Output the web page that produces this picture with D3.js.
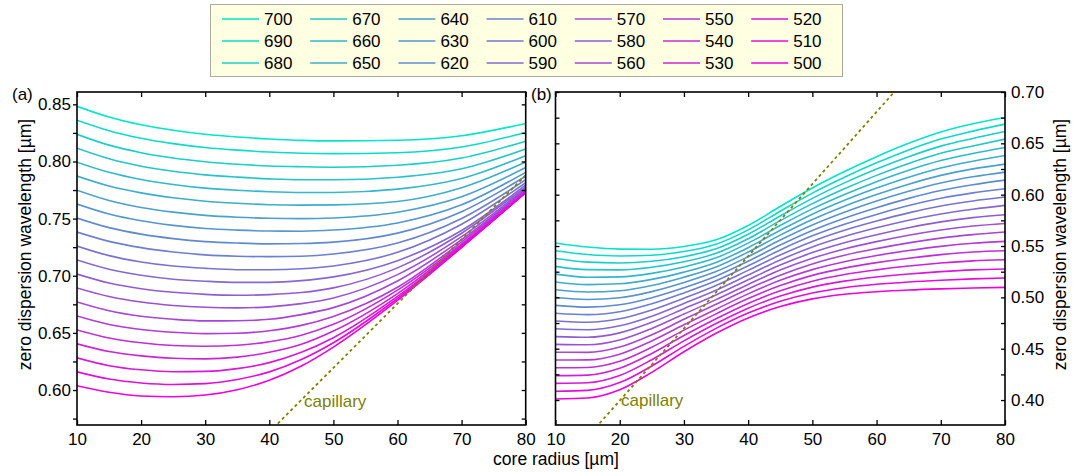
<!DOCTYPE html>
<html>
<head>
<meta charset="utf-8">
<script src="https://cdn.jsdelivr.net/npm/d3@7"></script>
<style>
  body { margin: 0; background: #fff; }
  text { font-family: "Liberation Sans", Arial, sans-serif; }
</style>
</head>
<body>
<script>
// wavelengths of the curves, nm
const wavelengths = [700, 690, 680, 670, 660, 650, 640, 630, 620, 610, 600,
                     590, 580, 570, 560, 550, 540, 530, 520, 510, 500];
// legend is filled column by column (570 / 580 appear swapped in the original)
const legendOrder = [700, 690, 680, 670, 660, 650, 640, 630, 620, 610, 600,
                     590, 570, 580, 560, 550, 540, 530, 520, 510, 500];

// panel (a): core radius grid and zero dispersion wavelength per curve
const radiiA = [10, 15, 20, 25, 30, 35, 40, 45, 50, 60, 70, 80];
const zdwA = [
  [0.8483, 0.8389, 0.8321, 0.8273, 0.8238, 0.8214, 0.8197, 0.8185, 0.8180, 0.8186, 0.8225, 0.8332],
  [0.8361, 0.8269, 0.8203, 0.8156, 0.8122, 0.8099, 0.8083, 0.8072, 0.8069, 0.8077, 0.8127, 0.8254],
  [0.8238, 0.8143, 0.8077, 0.8030, 0.7998, 0.7976, 0.7961, 0.7954, 0.7950, 0.7967, 0.8030, 0.8178],
  [0.8116, 0.8024, 0.7959, 0.7914, 0.7883, 0.7863, 0.7848, 0.7840, 0.7840, 0.7862, 0.7936, 0.8110],
  [0.7994, 0.7905, 0.7842, 0.7798, 0.7767, 0.7748, 0.7735, 0.7729, 0.7729, 0.7758, 0.7851, 0.8051],
  [0.7872, 0.7785, 0.7725, 0.7682, 0.7652, 0.7634, 0.7622, 0.7618, 0.7620, 0.7650, 0.7770, 0.7996],
  [0.7749, 0.7659, 0.7598, 0.7557, 0.7528, 0.7512, 0.7503, 0.7500, 0.7506, 0.7556, 0.7691, 0.7947],
  [0.7627, 0.7540, 0.7481, 0.7441, 0.7413, 0.7399, 0.7391, 0.7390, 0.7400, 0.7462, 0.7621, 0.7905],
  [0.7505, 0.7421, 0.7364, 0.7325, 0.7299, 0.7286, 0.7279, 0.7282, 0.7294, 0.7373, 0.7561, 0.7871],
  [0.7382, 0.7301, 0.7246, 0.7208, 0.7183, 0.7171, 0.7167, 0.7171, 0.7190, 0.7286, 0.7501, 0.7840],
  [0.7260, 0.7176, 0.7121, 0.7085, 0.7065, 0.7053, 0.7052, 0.7061, 0.7086, 0.7205, 0.7451, 0.7815],
  [0.7138, 0.7057, 0.7004, 0.6970, 0.6952, 0.6942, 0.6942, 0.6957, 0.6990, 0.7132, 0.7396, 0.7795],
  [0.7015, 0.6937, 0.6887, 0.6855, 0.6837, 0.6829, 0.6835, 0.6853, 0.6894, 0.7069, 0.7372, 0.7778],
  [0.6893, 0.6818, 0.6770, 0.6740, 0.6724, 0.6719, 0.6728, 0.6756, 0.6806, 0.7010, 0.7342, 0.7765],
  [0.6771, 0.6694, 0.6646, 0.6619, 0.6605, 0.6606, 0.6619, 0.6660, 0.6721, 0.6954, 0.7317, 0.7755],
  [0.6648, 0.6574, 0.6530, 0.6505, 0.6494, 0.6497, 0.6519, 0.6566, 0.6644, 0.6899, 0.7297, 0.7746],
  [0.6526, 0.6456, 0.6414, 0.6390, 0.6383, 0.6392, 0.6423, 0.6480, 0.6575, 0.6874, 0.7279, 0.7740],
  [0.6404, 0.6337, 0.6299, 0.6278, 0.6273, 0.6288, 0.6330, 0.6400, 0.6516, 0.6844, 0.7269, 0.7735],
  [0.6282, 0.6213, 0.6177, 0.6160, 0.6163, 0.6187, 0.6240, 0.6330, 0.6458, 0.6819, 0.7260, 0.7731],
  [0.6159, 0.6096, 0.6062, 0.6049, 0.6056, 0.6092, 0.6159, 0.6267, 0.6414, 0.6801, 0.7252, 0.7728],
  [0.6037, 0.5980, 0.5948, 0.5941, 0.5956, 0.6003, 0.6085, 0.6210, 0.6376, 0.6784, 0.7247, 0.7726]
];

// panel (b)
const radiiB = [10, 15, 20, 25, 30, 35, 40, 45, 50, 55, 60, 65, 70, 75, 80];
const zdwB = [
  [0.5530, 0.5490, 0.5470, 0.5468, 0.5495, 0.5560, 0.5700, 0.5885, 0.6065, 0.6225, 0.6370, 0.6500, 0.6610, 0.6690, 0.6752],
  [0.5454, 0.5417, 0.5403, 0.5410, 0.5446, 0.5517, 0.5657, 0.5839, 0.6015, 0.6170, 0.6310, 0.6436, 0.6542, 0.6619, 0.6687],
  [0.5378, 0.5343, 0.5335, 0.5351, 0.5396, 0.5473, 0.5615, 0.5793, 0.5964, 0.6115, 0.6250, 0.6370, 0.6473, 0.6548, 0.6616],
  [0.5302, 0.5270, 0.5268, 0.5293, 0.5346, 0.5429, 0.5571, 0.5747, 0.5913, 0.6058, 0.6188, 0.6304, 0.6403, 0.6475, 0.6541],
  [0.5226, 0.5196, 0.5200, 0.5234, 0.5296, 0.5385, 0.5528, 0.5700, 0.5862, 0.6002, 0.6127, 0.6238, 0.6332, 0.6401, 0.6460],
  [0.5150, 0.5124, 0.5132, 0.5175, 0.5246, 0.5340, 0.5484, 0.5653, 0.5810, 0.5945, 0.6064, 0.6170, 0.6260, 0.6326, 0.6382],
  [0.5074, 0.5052, 0.5064, 0.5116, 0.5196, 0.5296, 0.5441, 0.5606, 0.5758, 0.5888, 0.6001, 0.6102, 0.6188, 0.6251, 0.6298],
  [0.4998, 0.4979, 0.4996, 0.5056, 0.5145, 0.5251, 0.5396, 0.5558, 0.5705, 0.5829, 0.5938, 0.6033, 0.6114, 0.6174, 0.6220],
  [0.4922, 0.4905, 0.4928, 0.4997, 0.5094, 0.5206, 0.5352, 0.5510, 0.5652, 0.5771, 0.5873, 0.5964, 0.6040, 0.6097, 0.6142],
  [0.4846, 0.4832, 0.4860, 0.4937, 0.5043, 0.5161, 0.5307, 0.5462, 0.5599, 0.5712, 0.5808, 0.5894, 0.5965, 0.6018, 0.6058],
  [0.4770, 0.4758, 0.4791, 0.4877, 0.4992, 0.5116, 0.5263, 0.5413, 0.5545, 0.5653, 0.5743, 0.5823, 0.5889, 0.5939, 0.5977],
  [0.4694, 0.4685, 0.4723, 0.4817, 0.4941, 0.5070, 0.5217, 0.5364, 0.5491, 0.5592, 0.5677, 0.5751, 0.5812, 0.5858, 0.5896],
  [0.4618, 0.4611, 0.4654, 0.4757, 0.4889, 0.5024, 0.5172, 0.5315, 0.5436, 0.5532, 0.5610, 0.5678, 0.5735, 0.5777, 0.5804],
  [0.4542, 0.4538, 0.4585, 0.4697, 0.4837, 0.4978, 0.5126, 0.5266, 0.5381, 0.5471, 0.5543, 0.5605, 0.5656, 0.5695, 0.5720],
  [0.4466, 0.4464, 0.4516, 0.4636, 0.4786, 0.4932, 0.5081, 0.5216, 0.5326, 0.5410, 0.5475, 0.5531, 0.5577, 0.5611, 0.5636],
  [0.4390, 0.4391, 0.4447, 0.4576, 0.4733, 0.4885, 0.5034, 0.5166, 0.5270, 0.5347, 0.5407, 0.5456, 0.5497, 0.5527, 0.5545],
  [0.4314, 0.4317, 0.4378, 0.4515, 0.4681, 0.4839, 0.4988, 0.5115, 0.5214, 0.5285, 0.5338, 0.5381, 0.5416, 0.5442, 0.5454],
  [0.4238, 0.4243, 0.4309, 0.4454, 0.4629, 0.4792, 0.4941, 0.5064, 0.5157, 0.5222, 0.5268, 0.5305, 0.5334, 0.5355, 0.5366],
  [0.4162, 0.4168, 0.4239, 0.4393, 0.4576, 0.4745, 0.4895, 0.5013, 0.5100, 0.5158, 0.5198, 0.5228, 0.5251, 0.5268, 0.5276],
  [0.4086, 0.4094, 0.4170, 0.4332, 0.4523, 0.4698, 0.4847, 0.4962, 0.5043, 0.5094, 0.5127, 0.5150, 0.5167, 0.5180, 0.5188],
  [0.4010, 0.4020, 0.4100, 0.4270, 0.4470, 0.4650, 0.4800, 0.4910, 0.4985, 0.5030, 0.5055, 0.5072, 0.5083, 0.5091, 0.5097]
];

// capillary lines (end points, clipped to the plot)
const capRadiiA = [40, 80];
const capZdwA = [0.5632, 0.788];
const capRadiiB = [15, 65];
const capZdwB = [0.3643, 0.7158];

const xTicks = [10, 20, 30, 40, 50, 60, 70, 80];
const yTicksA = [0.60, 0.65, 0.70, 0.75, 0.80, 0.85];
const yMinorA = [0.575, 0.625, 0.675, 0.725, 0.775, 0.825];
const yTicksB = [0.40, 0.45, 0.50, 0.55, 0.60, 0.65, 0.70];
const yMinorB = [0.425, 0.475, 0.525, 0.575, 0.625, 0.675];

const W = 1084, H = 473;
const plotTop = 92, plotBottom = 425;
const fontSize = 17;
const olive = "#808000";

const svg = d3.select("body").append("svg")
  .attr("width", W)
  .attr("height", H);

const color = d3.scaleLinear()
  .domain([500, 700])
  .range(["#f000dc", "#00e6c8"])
  .interpolate(d3.interpolateRgb);

function drawPanel(p) {
  const x = d3.scaleLinear().domain([10, 80]).range([p.x0, p.x1]);
  const y = d3.scaleLinear().domain(p.yDomain).range([plotBottom, plotTop]);
  const g = svg.append("g");

  g.append("clipPath").attr("id", p.id)
    .append("rect")
      .attr("x", p.x0).attr("y", plotTop)
      .attr("width", p.x1 - p.x0).attr("height", plotBottom - plotTop);

  const line = d3.line()
    .x((d, i) => x(p.radii[i]))
    .y(d => y(d))
    .curve(d3.curveMonotoneX);

  g.append("g").attr("clip-path", `url(#${p.id})`)
    .selectAll("path")
    .data(p.values)
    .join("path")
      .attr("d", line)
      .attr("fill", "none")
      .attr("stroke", (d, i) => color(wavelengths[i]))
      .attr("stroke-width", 1.6);

  const capLine = d3.line()
    .x((d, i) => x(p.capRadii[i]))
    .y(d => y(d));
  g.append("path")
    .attr("clip-path", `url(#${p.id})`)
    .attr("d", capLine(p.capZdw))
    .attr("fill", "none")
    .attr("stroke", olive)
    .attr("stroke-width", 1.8)
    .attr("stroke-dasharray", "3,3");

  g.append("text")
    .attr("x", p.capLabel[0]).attr("y", p.capLabel[1])
    .attr("fill", olive)
    .attr("font-size", fontSize)
    .text("capillary");

  // axes
  const styleAxis = sel => {
    sel.select(".domain").remove();
    sel.selectAll("line").attr("stroke", "#000").attr("stroke-width", 1.3);
    sel.selectAll("text").attr("font-size", fontSize).attr("fill", "#000")
      .attr("font-family", "Liberation Sans, Arial, sans-serif");
  };

  g.append("g")
    .attr("transform", `translate(0,${plotBottom})`)
    .call(d3.axisBottom(x).tickValues(xTicks).tickFormat(d3.format("d"))
      .tickSizeInner(-5).tickSizeOuter(0).tickPadding(8))
    .call(styleAxis);
  g.append("g")
    .attr("transform", `translate(0,${plotTop})`)
    .call(d3.axisTop(x).tickValues(xTicks).tickFormat("")
      .tickSizeInner(-5).tickSizeOuter(0))
    .call(styleAxis);

  const fmt = d3.format(".2f");
  if (p.labelSide === "left") {
    g.append("g").attr("transform", `translate(${p.x0},0)`)
      .call(d3.axisLeft(y).tickValues(p.yTicks).tickFormat(fmt)
        .tickSizeInner(4).tickSizeOuter(0).tickPadding(2))
      .call(styleAxis);
    g.append("g").attr("transform", `translate(${p.x0},0)`)
      .call(d3.axisLeft(y).tickValues(p.yMinor).tickFormat("")
        .tickSizeInner(4).tickSizeOuter(0))
      .call(styleAxis);
    g.append("g").attr("transform", `translate(${p.x1},0)`)
      .call(d3.axisLeft(y).tickValues(p.yTicks.concat(p.yMinor)).tickFormat("")
        .tickSizeInner(4).tickSizeOuter(0))
      .call(styleAxis);
  } else {
    g.append("g").attr("transform", `translate(${p.x1},0)`)
      .call(d3.axisRight(y).tickValues(p.yTicks).tickFormat(fmt)
        .tickSizeInner(-4).tickSizeOuter(0).tickPadding(6))
      .call(styleAxis);
    g.append("g").attr("transform", `translate(${p.x1},0)`)
      .call(d3.axisRight(y).tickValues(p.yMinor).tickFormat("")
        .tickSizeInner(-4).tickSizeOuter(0))
      .call(styleAxis);
    g.append("g").attr("transform", `translate(${p.x0},0)`)
      .call(d3.axisRight(y).tickValues(p.yTicks.concat(p.yMinor)).tickFormat("")
        .tickSizeInner(4).tickSizeOuter(0))
      .call(styleAxis);
  }

  g.append("rect")
    .attr("x", p.x0).attr("y", plotTop)
    .attr("width", p.x1 - p.x0).attr("height", plotBottom - plotTop)
    .attr("fill", "none")
    .attr("stroke", "#000")
    .attr("stroke-width", 1.6);

  g.append("text")
    .attr("x", p.tag[0]).attr("y", p.tag[1])
    .attr("font-size", fontSize)
    .text(p.tagText);

  g.append("text")
    .attr("transform", `translate(${p.titleX},244.5) rotate(-90)`)
    .attr("text-anchor", "middle")
    .attr("font-size", 17.5)
    .text("zero dispersion wavelength [µm]");
}

drawPanel({
  id: "clipA", x0: 77, x1: 525.7, yDomain: [0.5694, 0.8608],
  radii: radiiA, values: zdwA, capRadii: capRadiiA, capZdw: capZdwA,
  capLabel: [304, 407], yTicks: yTicksA, yMinor: yMinorA, labelSide: "left",
  tag: [12, 100], tagText: "(a)", titleX: 31
});

drawPanel({
  id: "clipB", x0: 555.5, x1: 1005, yDomain: [0.3757, 0.70],
  radii: radiiB, values: zdwB, capRadii: capRadiiB, capZdw: capZdwB,
  capLabel: [621, 406], yTicks: yTicksB, yMinor: yMinorB, labelSide: "right",
  tag: [531, 100], tagText: "(b)", titleX: 1066
});

svg.append("text")
  .attr("x", 556).attr("y", 465)
  .attr("text-anchor", "middle")
  .attr("font-size", 17.5)
  .text("core radius [µm]");

// legend
const legend = svg.append("g");
legend.append("rect")
  .attr("x", 210.5).attr("y", 4.5)
  .attr("width", 632).attr("height", 72)
  .attr("fill", "#ffffe1")
  .attr("stroke", "#555")
  .attr("stroke-dasharray", "1,1");

const items = legend.selectAll("g.item")
  .data(legendOrder)
  .join("g")
    .attr("class", "item")
    .attr("transform", (d, i) => {
      const col = Math.floor(i / 3), row = i % 3;
      return `translate(${222 + col * 88.2},${19 + row * 22})`;
    });
items.append("line")
  .attr("x1", 0).attr("x2", 37)
  .attr("stroke", d => color(d))
  .attr("stroke-width", 1.6);
items.append("text")
  .attr("x", 42).attr("dy", "0.35em")
  .attr("font-size", fontSize)
  .text(d => d);
</script>
</body>
</html>
